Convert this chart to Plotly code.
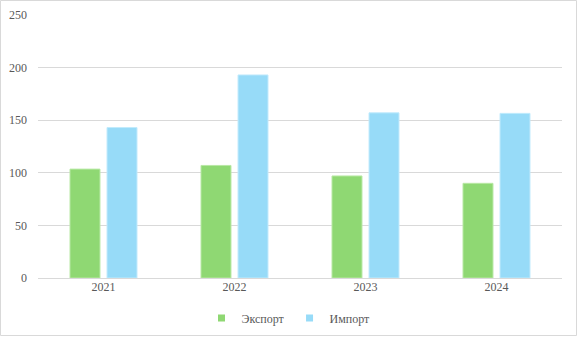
import plotly.graph_objects as go

years = ["2021", "2022", "2023", "2024"]
export_vals = [103.5, 107, 97, 90]
import_vals = [143, 193, 157, 156.5]
y_ticks = [0, 50, 100, 150, 200, 250]
series_names = ["Экспорт", "Импорт"]
series_colors = ["#8fd873", "#97dbf8"]
edge_colors = ["#b8e8a4", "#c0eafc"]

W, H = 577, 337
ml, mr, mt, mb = 38, 15, 15, 59
pw, ph = W - ml - mr, H - mt - mb

def px_x(p):
    return (p - ml) / pw

def px_y(p):
    return (H - mb - p) / ph

FONT = "Liberation Serif"
TXT = "#595959"

fig = go.Figure()
for name, vals, col, edge in zip(series_names, [export_vals, import_vals], series_colors, edge_colors):
    fig.add_trace(go.Bar(name=name, x=years, y=vals, showlegend=False, legendgroup=name,
                         marker=dict(color=col, line=dict(color=edge, width=1))))
# legend entries with small square swatches
for name, col in zip(series_names, series_colors):
    fig.add_trace(go.Scatter(name=name, x=[None], y=[None], mode="markers", legendgroup=name,
                             marker=dict(symbol="square", size=7, color=col)))

fig.update_layout(
    template="none",
    width=W, height=H,
    margin=dict(l=ml, r=mr, t=mt, b=mb, autoexpand=False),
    paper_bgcolor="white", plot_bgcolor="white",
    barmode="group", bargap=0.435, bargroupgap=0.19,
    font=dict(family=FONT, size=12, color=TXT),
    showlegend=True,
    legend=dict(orientation="h", xref="container", yref="container",
                x=0.5, xanchor="center", y=(H - 318) / H, yanchor="middle",
                font=dict(family=FONT, size=12, color=TXT),
                itemwidth=30, tracegroupgap=0, bgcolor="rgba(0,0,0,0)"),
    xaxis=dict(type="category", showline=False, ticks="", showgrid=False, automargin=False,
               zeroline=False, tickfont=dict(family=FONT, size=12, color=TXT)),
    yaxis=dict(range=[0, 250], tickvals=y_ticks, showgrid=True, gridcolor="#d9d9d9",
               gridwidth=1, zeroline=True, zerolinecolor="#d9d9d9", zerolinewidth=1,
               showline=False, ticks="", ticklabelstandoff=10, automargin=False,
               tickfont=dict(family=FONT, size=12, color=TXT)),
    shapes=[dict(type="rect", xref="paper", yref="paper",
                 x0=px_x(0.5), x1=px_x(576.5), y0=px_y(335.5), y1=px_y(0.5),
                 line=dict(color="#d9d9d9", width=1), layer="below")],
)

fig.write_html("out.html")
